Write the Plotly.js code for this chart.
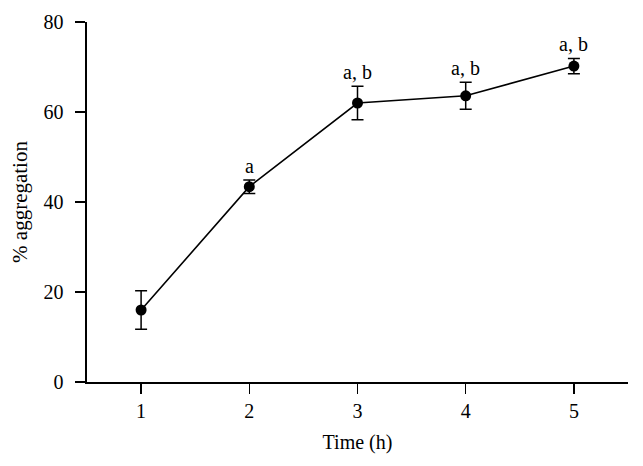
<!DOCTYPE html>
<html>
<head>
<meta charset="utf-8">
<script src="https://cdn.plot.ly/plotly-3.0.1.min.js"></script>
<style>
  html, body { margin: 0; padding: 0; background: #fff; }
  #chart { width: 643px; height: 466px; }
</style>
</head>
<body>
<div id="chart"></div>
<script>
// data
const hours = [1, 2, 3, 4, 5];
const aggregation = [16.0, 43.4, 62.0, 63.6, 70.2];
const errs = [4.3, 1.5, 3.7, 3.0, 1.7];
const sigLabels = ["", "a", "a, b", "a, b", "a, b"];
const yTicks = [0, 20, 40, 60, 80];

const serif = "Liberation Serif, Times New Roman, serif";

const trace = {
    x: hours,
    y: aggregation,
    type: 'scatter',
    mode: 'lines+markers',
    line: { color: '#000', width: 1.6 },
    marker: { color: '#000', size: 11 },
    error_y: { type: 'data', array: errs, visible: true, color: '#000', thickness: 1.5, width: 6 },
    showlegend: false,
    hoverinfo: 'none'
};

// letters above the error bars
let notes = [];
hours.forEach((h, i) => {
    if (!sigLabels[i]) return;
    notes.push({
        x: h, y: aggregation[i] + errs[i], xref: 'x', yref: 'y',
        text: sigLabels[i], showarrow: false,
        yanchor: 'middle', yshift: 14,
        font: { family: serif, size: 20, color: '#000' }
    });
});

const layout = {
    width: 643, height: 466,
    margin: { l: 87, r: 15, t: 22, b: 84 },
    paper_bgcolor: '#fff', plot_bgcolor: '#fff',
    font: { family: serif, size: 20, color: '#000' },
    xaxis: {
        range: [0.5, 5.5],
        tickvals: hours,
        tickfont: { family: serif, size: 20 },
        ticks: 'outside', ticklen: 10, tickwidth: 1.5, tickcolor: '#000',
        showline: true, linecolor: '#000', linewidth: 1.6,
        showgrid: false, zeroline: false,
        title: { text: 'Time (h)', font: { family: serif, size: 20 }, standoff: 14 }
    },
    yaxis: {
        range: [0, 80],
        tickvals: yTicks,
        tickfont: { family: serif, size: 20 },
        ticklabelstandoff: 8,
        ticks: 'outside', ticklen: 10, tickwidth: 1.5, tickcolor: '#000',
        showline: true, linecolor: '#000', linewidth: 1.6,
        showgrid: false, zeroline: false,
        title: { text: '% aggregation', font: { family: serif, size: 21 }, standoff: 10 }
    },
    annotations: notes,
    // x axis line runs out past the y axis by one tick length
    shapes: [{
        type: 'line', xref: 'paper', yref: 'paper',
        x0: -10 / 541, x1: 0, y0: 0, y1: 0,
        line: { color: '#000', width: 1.6 }
    }]
};

Plotly.newPlot('chart', [trace], layout, { displayModeBar: false, staticPlot: true });
</script>
</body>
</html>
